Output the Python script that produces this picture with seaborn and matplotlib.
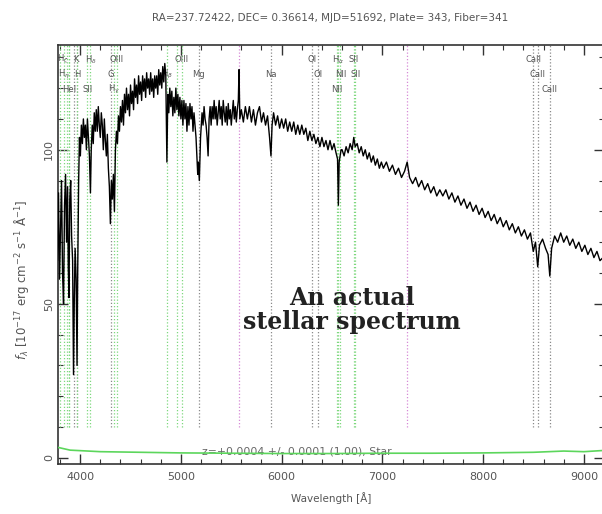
import matplotlib
matplotlib.use("Agg")
import pandas as pd
import matplotlib.pyplot as plt
from matplotlib.ticker import MultipleLocator
import seaborn as sns

# spectrum: wavelength [A], flux [1e-17 erg/cm2/s/A]
wave = [3765, 3775, 3785, 3795, 3805, 3815, 3825, 3835, 3845, 3855, 3865, 3875, 3882, 3889,
        3897, 3906, 3915, 3925, 3934, 3942, 3950, 3960, 3969, 3976, 3985, 3993, 4002, 4012,
        4022, 4032, 4042, 4052, 4062, 4072, 4082, 4092, 4102, 4110, 4120, 4130, 4140, 4150,
        4160, 4170, 4180, 4190, 4200, 4210, 4220, 4230, 4240, 4250, 4260, 4270, 4280, 4290,
        4300, 4310, 4320, 4330, 4340, 4350, 4360, 4370, 4380, 4390, 4400, 4410, 4420, 4430,
        4440, 4450, 4460, 4470, 4480, 4490, 4500, 4510, 4520, 4530, 4540, 4550, 4560, 4570,
        4580, 4590, 4600, 4610, 4620, 4630, 4640, 4650, 4660, 4670, 4680, 4690, 4700, 4710,
        4720, 4730, 4740, 4750, 4760, 4770, 4780, 4790, 4800, 4810, 4820, 4830, 4840, 4850,
        4861, 4870, 4880, 4890, 4900, 4910, 4920, 4930, 4940, 4950, 4960, 4970, 4980, 4990,
        5000, 5010, 5020, 5030, 5040, 5050, 5060, 5070, 5080, 5090, 5100, 5110, 5120, 5130,
        5140, 5150, 5167, 5173, 5183, 5195, 5210, 5220, 5230, 5240, 5250, 5260, 5270, 5280,
        5290, 5300, 5310, 5320, 5330, 5340, 5350, 5360, 5370, 5380, 5390, 5400, 5410, 5420,
        5430, 5440, 5450, 5460, 5470, 5480, 5490, 5500, 5510, 5520, 5530, 5540, 5550, 5560,
        5570, 5577, 5585, 5600, 5620, 5640, 5660, 5680, 5700, 5720, 5740, 5760, 5780, 5800,
        5820, 5840, 5860, 5880, 5894, 5905, 5920, 5940, 5960, 5980, 6000, 6020, 6040, 6060,
        6080, 6100, 6120, 6140, 6160, 6180, 6200, 6220, 6240, 6260, 6280, 6300, 6320, 6340,
        6360, 6380, 6400, 6420, 6440, 6460, 6480, 6500, 6520, 6540, 6555, 6563, 6571, 6590,
        6600, 6620, 6640, 6660, 6680, 6700, 6716, 6730, 6750, 6770, 6790, 6810, 6830, 6850,
        6870, 6890, 6910, 6930, 6950, 6970, 6990, 7010, 7040, 7070, 7100, 7130, 7160, 7190,
        7220, 7246, 7270, 7300, 7330, 7360, 7390, 7420, 7450, 7480, 7510, 7540, 7570, 7600,
        7630, 7660, 7690, 7720, 7750, 7780, 7810, 7840, 7870, 7900, 7930, 7960, 7990, 8020,
        8050, 8080, 8110, 8140, 8170, 8200, 8230, 8260, 8290, 8320, 8350, 8380, 8410, 8440,
        8470, 8498, 8520, 8542, 8560, 8590, 8620, 8645, 8662, 8680, 8710, 8740, 8770, 8800,
        8830, 8860, 8890, 8920, 8950, 8980, 9010, 9040, 9070, 9100, 9130, 9160, 9190]
flux = [80, 64, 86, 58, 74, 90, 60, 50, 82, 92, 70, 88, 62, 52,
        84, 90, 72, 64, 27, 52, 68, 58, 30, 62, 90, 104, 98, 108,
        102, 110, 104, 108, 100, 110, 104, 98, 86, 100, 108, 102, 112, 106,
        113, 106, 114, 108, 104, 112, 108, 100, 110, 103, 98, 105, 94, 88,
        76, 90, 84, 92, 80, 100, 106, 102, 111, 106, 114, 109, 116, 108,
        118, 112, 120, 113, 118, 111, 121, 115, 119, 113, 123, 117, 121, 115,
        124, 118, 122, 116, 124, 119, 123, 117, 125, 120, 123, 118, 125, 119,
        123, 117, 124, 120, 124, 118, 126, 121, 125, 120, 127, 122, 128, 124,
        96, 118, 112, 120, 114, 119, 111, 117, 112, 120, 113, 118, 111, 117,
        110, 116, 108, 116, 110, 115, 106, 114, 108, 115, 110, 114, 106, 112,
        108, 104, 92, 96, 90, 104, 112, 108, 114, 110, 108, 104, 98, 110,
        114, 108, 114, 110, 116, 110, 114, 108, 112, 116, 110, 114, 108, 116,
        112, 109, 114, 108, 115, 110, 113, 108, 112, 116, 110, 114, 109, 113,
        116, 126, 110, 113, 109, 114, 110, 114, 109, 113, 108, 112, 114, 109,
        112, 108, 111, 104, 98, 108, 112, 108, 111, 107, 110, 107, 110, 106,
        109, 106, 109, 105, 108, 105, 108, 105, 107, 103, 106, 103, 105, 102,
        104, 101, 104, 101, 103, 100, 103, 100, 102, 99, 97, 82, 96, 100,
        100, 98, 101, 99, 102, 100, 104, 101, 102, 99, 101, 98, 100, 97,
        99, 96, 98, 95, 97, 94, 96, 94, 96, 93, 95, 92, 94, 91,
        93, 96, 91, 89, 91, 88, 90, 87, 89, 86, 88, 85, 87, 85,
        87, 84, 86, 83, 85, 82, 84, 81, 83, 80, 82, 79, 81, 78,
        80, 77, 79, 76, 78, 75, 77, 74, 76, 73, 75, 72, 74, 71,
        73, 67, 70, 62, 69, 71, 68, 66, 59, 68, 72, 70, 73, 70,
        72, 69, 71, 68, 70, 67, 69, 66, 68, 65, 67, 64, 65]

# error spectrum (green curve near zero)
err_wave = [3765, 3900, 4200, 4600, 5000, 5500, 6000, 6500, 7000, 7500, 8000, 8500, 8800, 9000, 9200]
err_flux = [3.5, 2.5, 2.0, 1.8, 1.6, 1.5, 1.4, 1.4, 1.5, 1.5, 1.6, 1.8, 2.2, 2.0, 2.4]

# marked lines: label, wavelength, kind, label row (-1 = no label), label alignment
line_names = ['', 'H$_\\eta$', '', 'H$_\\zeta$', 'HeI', 'K', 'H', '', 'SII', 'H$_\\delta$',
              'G', 'H$_\\gamma$', 'OIII', 'H$_\\beta$', '', 'OIII', 'Mg', '', 'Na', 'OI',
              'OI', 'NII', 'H$_\\alpha$', 'NII', 'SII', 'SII', '', 'CaII', 'CaII', 'CaII']
line_waves = [3798, 3835, 3869, 3889, 3889, 3934, 3969, 3970, 4072, 4102,
              4304, 4340, 4363, 4861, 4959, 5007, 5175, 5577, 5894, 6300,
              6363, 6548, 6563, 6583, 6716, 6731, 7246, 8498, 8542, 8662]
line_kinds = ['em', 'em', 'em', 'em', 'em', 'abs', 'abs', 'em', 'em', 'em',
              'abs', 'em', 'em', 'em', 'em', 'em', 'abs', 'sky', 'abs', 'abs',
              'abs', 'em', 'em', 'em', 'em', 'em', 'sky', 'abs', 'abs', 'abs']
line_rows = [-1, 1, -1, 0, 2, 0, 1, -1, 2, 0,
             1, 2, 0, 1, -1, 0, 1, -1, 1, 0,
             1, 2, 0, 1, 0, 1, -1, 0, 1, 2]
line_align = ['center', 'center', 'center', 'right', 'center', 'left', 'center', 'center', 'center', 'center',
              'center', 'center', 'center', 'center', 'center', 'center', 'center', 'center', 'center', 'center',
              'center', 'center', 'center', 'center', 'center', 'center', 'center', 'center', 'center', 'center']

title = "RA=237.72422, DEC= 0.36614, MJD=51692, Plate= 343, Fiber=341"
z_text = "z=+0.0004 +/- 0.0001 (1.00), Star"

kind_colors = {'em': '#7ed87e', 'abs': '#8a8a8a', 'sky': '#d68ad6'}
row_y = [129.3, 124.4, 119.5]

sns.set_style("ticks")
plt.rcParams['font.family'] = ['DejaVu Sans']

fig = plt.figure(figsize=(6.02, 5.14), dpi=100)
ax = fig.add_axes([58 / 602, 50 / 514, 546 / 602, 419 / 514])

# vertical line markers and their labels
for name, w, kind, row, ha in zip(line_names, line_waves, line_kinds, line_rows, line_align):
    ax.vlines(w, 10, 135, colors=kind_colors[kind], linestyles=(0, (1, 1.6)), lw=0.9, zorder=1)
    if row >= 0:
        ax.text(w, row_y[row], name, ha=ha, va='center', fontsize=6,
                color='#555555', zorder=3)

spec = pd.DataFrame({'wave': wave, 'flux': flux})
err = pd.DataFrame({'wave': err_wave, 'flux': err_flux})

ax.text(6150, 2.2, z_text, ha='center', va='center', fontsize=7.8, color='#666666', zorder=2)
sns.lineplot(data=spec, x='wave', y='flux', estimator=None, color='black', lw=1.0, ax=ax, zorder=4)
sns.lineplot(data=err, x='wave', y='flux', estimator=None, color='#5cd65c', lw=1.2, ax=ax, zorder=5)

ax.text(6700, 48, "An actual\nstellar spectrum", ha='center', va='center', fontsize=17,
        family='DejaVu Serif', weight='bold', color='#222222', linespacing=1.0, zorder=6)

ax.set_xlim(3780, 9200)
ax.set_ylim(-2, 134)
ax.xaxis.set_major_locator(MultipleLocator(1000))
ax.xaxis.set_minor_locator(MultipleLocator(200))
ax.yaxis.set_major_locator(MultipleLocator(50))
ax.yaxis.set_minor_locator(MultipleLocator(10))
ax.tick_params(which='both', direction='in', top=True, right=True, colors='#333333',
               labelcolor='#555555', labelsize=8)
ax.tick_params(which='major', length=7, width=1.0)
ax.tick_params(which='minor', length=3.5, width=0.8)
ax.tick_params(axis='x', pad=6)
ax.tick_params(axis='y', pad=3)
for lab in ax.get_yticklabels():
    lab.set_rotation(90)
    lab.set_va('center')
for sp in ax.spines.values():
    sp.set_color('#333333')
    sp.set_linewidth(1.2)

ax.set_xlabel("Wavelength [Å]", fontsize=7.5, color='#555555', labelpad=7)
ax.set_ylabel("$f_\\lambda$ [10$^{-17}$ erg cm$^{-2}$ s$^{-1}$ Å$^{-1}$]", fontsize=8.5,
              color='#555555')
ax.yaxis.set_label_coords(-0.05, 0.44)
fig.text(330 / 602, 1 - 18 / 514, title, ha='center', va='center', fontsize=7.5, color='#555555')

fig.savefig("out.png", dpi=100)
